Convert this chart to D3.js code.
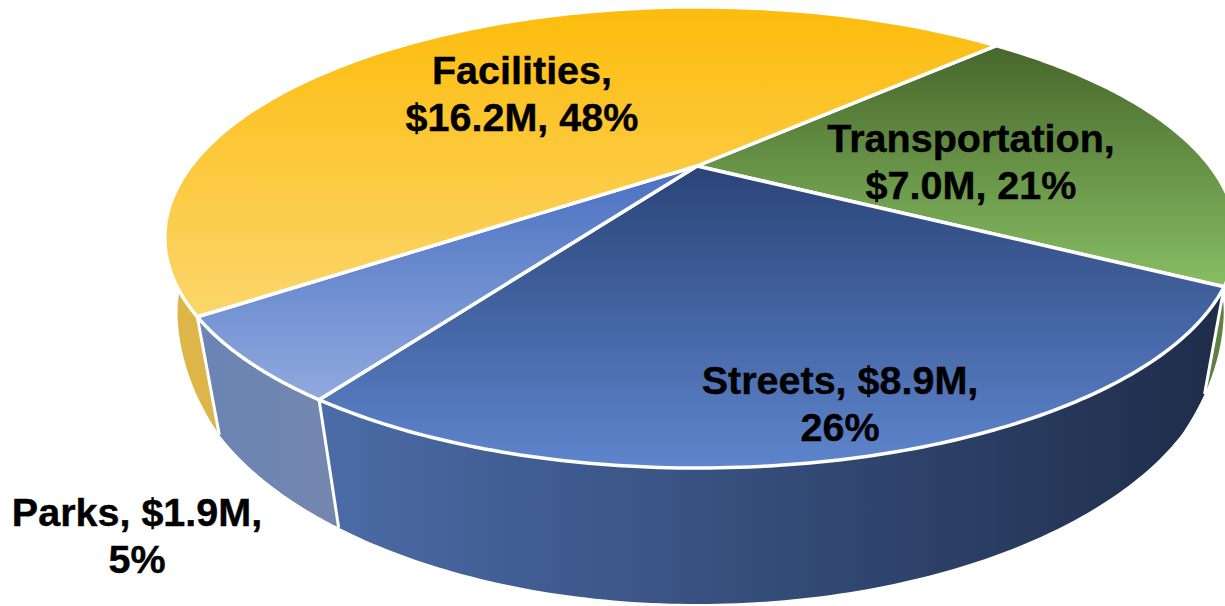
<!DOCTYPE html>
<html><head><meta charset="utf-8">
<script src="https://cdn.jsdelivr.net/npm/d3@7"></script>
<style>html,body{margin:0;padding:0;background:#fff}svg{display:block}</style>
</head><body><svg id="c" width="1225" height="606"></svg>
<script>
const categories = ["Transportation","Streets","Parks","Facilities"];
const amounts = [7.0, 8.9, 1.9, 16.2];
const amountLabels = ["$7.0M","$8.9M","$1.9M","$16.2M"];
const percentLabels = ["21%","26%","5%","48%"];
const topStops = [["#47672B","#87BE63"],["#2A4478","#5E85CD"],["#4A70C0","#90AADF"],["#FDBC0C","#FBD66C"]];
const sideStops = [["#5F8040","#5F8040"],["#4B6CA8","#1E2C49"],["#6B84B4","#7487AE"],["#DDB548","#E3BE57"]];
const labelLines = [
  ["Transportation,","$7.0M, 21%"],
  ["Streets, $8.9M,","26%"],
  ["Parks, $1.9M,","5%"],
  ["Facilities,","$16.2M, 48%"]];
const labelAnchors = [[971,152],[840,394],[137,526],[522,84]];

const svg=d3.select("#c");
const defs=svg.append("defs");
const startDeg=45.3;
const pie=d3.pie().sort(null).startAngle(startDeg*Math.PI/180).endAngle((startDeg+360)*Math.PI/180);
const arcs=pie(amounts);

// perspective projection of the pie's unit disc
const persp=0.31;
const sx=d3.scaleLinear().domain([-1,0,1]).range([697-506,697,697+513]);
const sy=d3.scaleLinear().domain([0,1]).range([166,166+208.4]);
// rim position -> base position (the base sits lower and slightly narrower)
const baseY=d3.scaleLinear().domain([7,166,236,316,401,468]).range([90,250,325,434,529,604]);
const shrink=d3.scaleLinear().domain([236,316,401]).range([0.975,0.956,0.948]);
function topPt(a,r=1){
  const u=r*Math.sin(a), v=-r*Math.cos(a), w=1-persp*v;
  return [sx(u/w),sy(v/w)];
}
function botPt(a){ const p=topPt(a); return [697+(p[0]-697)*shrink(p[1]),baseY(p[1])]; }
const line=d3.line();
const samples=(a,b)=>d3.range(0,121).map(i=>a+(b-a)*i/120);

function grad(id,stops,horizontal){
  const g=defs.append("linearGradient").attr("id",id)
    .attr("x1",0).attr("y1",0).attr("x2",horizontal?1:0).attr("y2",horizontal?0:1);
  g.append("stop").attr("offset",0).attr("stop-color",stops[0]);
  g.append("stop").attr("offset",1).attr("stop-color",stops[1]);
}
categories.forEach((c,i)=>{grad("t"+i,topStops[i],false);grad("s"+i,sideStops[i],true);});

// side walls: only the part below the rim is ever seen
const sideG=svg.append("g");
[3,0,2,1].forEach(i=>{
  const d=arcs[i];
  const ts=samples(d.startAngle,d.endAngle);
  const pts=ts.map(t=>topPt(t)).concat(ts.slice().reverse().map(botPt));
  sideG.append("path").attr("d",line(pts)+"Z").attr("fill",`url(#s${i})`);
});
// white seams between wall segments
[1,2,3].forEach(i=>{
  const a=arcs[i].startAngle;
  sideG.append("path").attr("d",line([topPt(a),botPt(a)])).attr("stroke","#fff").attr("stroke-width",3).attr("fill","none");
});

// top faces
const topG=svg.append("g");
arcs.forEach((d,i)=>{
  const pts=[topPt(0,0)].concat(samples(d.startAngle,d.endAngle).map(t=>topPt(t)));
  topG.append("path").attr("d",line(pts)+"Z").attr("fill",`url(#t${i})`)
    .attr("stroke","#fff").attr("stroke-width",3.5).attr("stroke-linejoin","round");
});

// labels
const labelG=svg.append("g").attr("font-family","'Liberation Sans',Arial,sans-serif")
  .attr("font-weight","bold").attr("font-size",39.5).attr("fill","#000")
  .attr("stroke","#000").attr("stroke-width",0.4).attr("text-anchor","middle");
categories.forEach((c,i)=>{
  const t=labelG.append("text").attr("x",labelAnchors[i][0]).attr("y",labelAnchors[i][1]);
  labelLines[i].forEach((s,j)=>t.append("tspan").attr("x",labelAnchors[i][0]).attr("dy",j?46.5:0).text(s));
});
</script></body></html>
